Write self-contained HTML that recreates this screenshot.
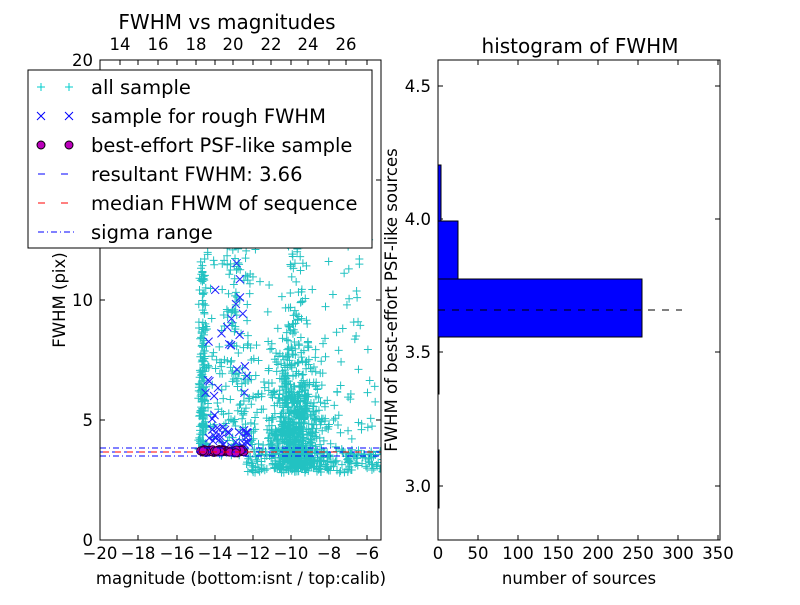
<!DOCTYPE html>
<html><head><style>body{margin:0;background:#fff}svg{font-family:"DejaVu Sans","Liberation Sans",sans-serif}</style></head>
<body>
<svg id="s" width="800" height="600" xmlns="http://www.w3.org/2000/svg">
<rect width="800" height="600" fill="#fff"/>
<defs><clipPath id="c"><rect x="100" y="60" width="281" height="480"/></clipPath></defs>
<g id="pts" clip-path="url(#c)"></g>
<g clip-path="url(#c)">
<line x1="100" y1="452" x2="381" y2="452" stroke="#00f" stroke-dasharray="6,6"/>
<line x1="103" y1="452" x2="381" y2="452" stroke="#f00" stroke-dasharray="6,6"/>
<line x1="100" y1="448" x2="381" y2="448" stroke="#00f" stroke-dasharray="6,3,1,3"/>
<line x1="100" y1="456" x2="381" y2="456" stroke="#00f" stroke-dasharray="6,3,1,3"/>
</g>
<rect x="100" y="60" width="281" height="480" fill="none" stroke="#000"/>
<g id="tk" stroke="#000"></g>
<g font-size="16.5" fill="#000" text-anchor="middle">
<text x="100" y="559">−20</text><text x="138" y="559">−18</text><text x="177" y="559">−16</text><text x="215" y="559">−14</text><text x="253" y="559">−12</text><text x="291" y="559">−10</text><text x="329" y="559">−8</text><text x="367" y="559">−6</text>
<text x="120" y="50">14</text><text x="158" y="50">16</text><text x="196" y="50">18</text><text x="233" y="50">20</text><text x="271" y="50">22</text><text x="308" y="50">24</text><text x="346" y="50">26</text>
<text x="227" y="29" font-size="20">FWHM vs magnitudes</text>
<text x="241" y="584">magnitude (bottom:isnt / top:calib)</text>
<text x="580" y="53" font-size="20">histogram of FWHM</text>
<text x="579" y="584">number of sources</text>
<text x="438" y="559">0</text><text x="478" y="559">50</text><text x="518" y="559">100</text><text x="558" y="559">150</text><text x="598" y="559">200</text><text x="638" y="559">250</text><text x="678" y="559">300</text><text x="718" y="559">350</text>
</g>
<g font-size="16.5" text-anchor="end">
<text x="93" y="546">0</text><text x="93" y="426">5</text><text x="93" y="306">10</text><text x="93" y="66">20</text>
<text x="431" y="492">3.0</text><text x="431" y="358">3.5</text><text x="431" y="225">4.0</text><text x="431" y="92">4.5</text>
</g>
<text transform="translate(65,300) rotate(-90)" font-size="16.5" text-anchor="middle">FWHM (pix)</text>
<text transform="translate(397,300) rotate(-90)" font-size="16.5" text-anchor="middle">FWHM of best-effort PSF-like sources</text>
<g fill="#00f" stroke="#000">
<rect x="438" y="165" width="3" height="56"/>
<rect x="438" y="221" width="20" height="58"/>
<rect x="438" y="279" width="204" height="58"/>
<rect x="438" y="337" width="1" height="57"/>
<rect x="438" y="450" width="1" height="58"/>
</g>
<line x1="438" y1="310" x2="682" y2="310" stroke="#000" stroke-dasharray="7,7"/>
<rect x="438" y="60" width="282" height="480" fill="none" stroke="#000"/>
<rect x="28" y="70" width="344" height="178" fill="#fff" stroke="#000"/>
<g font-size="19.5">
<text x="91" y="94">all sample</text><text x="91" y="123">sample for rough FWHM</text><text x="91" y="152">best-effort PSF-like sample</text><text x="91" y="181">resultant FWHM: 3.66</text><text x="91" y="210">median FHWM of sequence</text><text x="91" y="239">sigma range</text>
</g>
<g stroke="#0cc"><path d="M37 87h8M41 83v8M65 87h8M69 83v8"/></g>
<g stroke="#00f"><path d="M37 112l8 8M45 112l-8 8M65 112l8 8M73 112l-8 8"/></g>
<circle cx="41" cy="145" r="4" fill="#b0b" stroke="#000"/><circle cx="69" cy="145" r="4" fill="#b0b" stroke="#000"/>
<line x1="38" y1="174" x2="75" y2="174" stroke="#00f" stroke-dasharray="7,16"/>
<line x1="38" y1="203" x2="75" y2="203" stroke="#f00" stroke-dasharray="7,16"/>
<line x1="38" y1="232" x2="75" y2="232" stroke="#00f" stroke-dasharray="6,3,1,3"/>
</svg>
<script>
var ns="http://www.w3.org/2000/svg",P=document.getElementById("pts"),T=document.getElementById("tk");
var seed=7;function r(){seed=(seed*16807)%2147483647;return seed/2147483647;}
function g(){return (r()+r()+r()+r()-2)/1.15;}
var X=function(m){return 100+(m+20)*19},Y=function(f){return 540-f*24};
var d="";
function plus(x,y){d+="M"+(x-4)+" "+y+"h8M"+x+" "+(y-4)+"v8";}
for(var i=0;i<1400;i++){var m,f;var t=r();
 if(t<0.45){m=-9.7+g()*1.3;f=3.0+Math.abs(g())*4.5;}
 else if(t<0.55){var u=r();m=-10.3+u*1.2+g()*0.5;f=4+u*14+g()*1.5;}
 else if(t<0.68){m=-14.6+g()*0.2;f=3.7+r()*r()*12;}
 else if(t<0.82){m=-12.8+g()*1.3;f=3.8+r()*12;}
 else {m=-14.5+r()*9;f=3.5+r()*r()*17;}
 if(m>-15.5&&m<-5)plus(X(m),Y(f));}
for(var i=0;i<250;i++){plus(X(-12.3+r()*7.2),Y(2.8+r()*1.0));}
var p=document.createElementNS(ns,"path");p.setAttribute("d",d);p.setAttribute("stroke","#22c2c2");p.setAttribute("stroke-width","1");P.appendChild(p);
d="";for(var i=0;i<60;i++){var x=X(-14.5+r()*2.3),y=Y(3.7+(r()<0.3?r()*1:r()*8));d+="M"+(x-4)+" "+(y-4)+"l8 8M"+(x+4)+" "+(y-4)+"l-8 8";}
p=document.createElementNS(ns,"path");p.setAttribute("d",d);p.setAttribute("stroke","#22f");P.appendChild(p);
for(var i=0;i<70;i++){var c=document.createElementNS(ns,"circle");c.setAttribute("cx",200+r()*46);c.setAttribute("cy",451+g()*1.5);c.setAttribute("r",4);c.setAttribute("fill","#b0b");c.setAttribute("stroke","#303");P.appendChild(c);}
d="";
[100,138,177,215,253,291,329,367].forEach(function(x){d+="M"+x+" 540v-5M"+x+" 60v5";});
[120,158,196,233,271,308,346].forEach(function(x){d+="M"+x+" 60v5";});
[540,420,300,180,60].forEach(function(y){d+="M100 "+y+"h5M381 "+y+"h-5";});
[438,478,518,558,598,638,678,718].forEach(function(x){d+="M"+x+" 540v-5M"+x+" 60v5";});
[486,352,219,86].forEach(function(y){d+="M438 "+y+"h5M720 "+y+"h-5";});
p=document.createElementNS(ns,"path");p.setAttribute("d",d);T.appendChild(p);
</script>
</body></html>
